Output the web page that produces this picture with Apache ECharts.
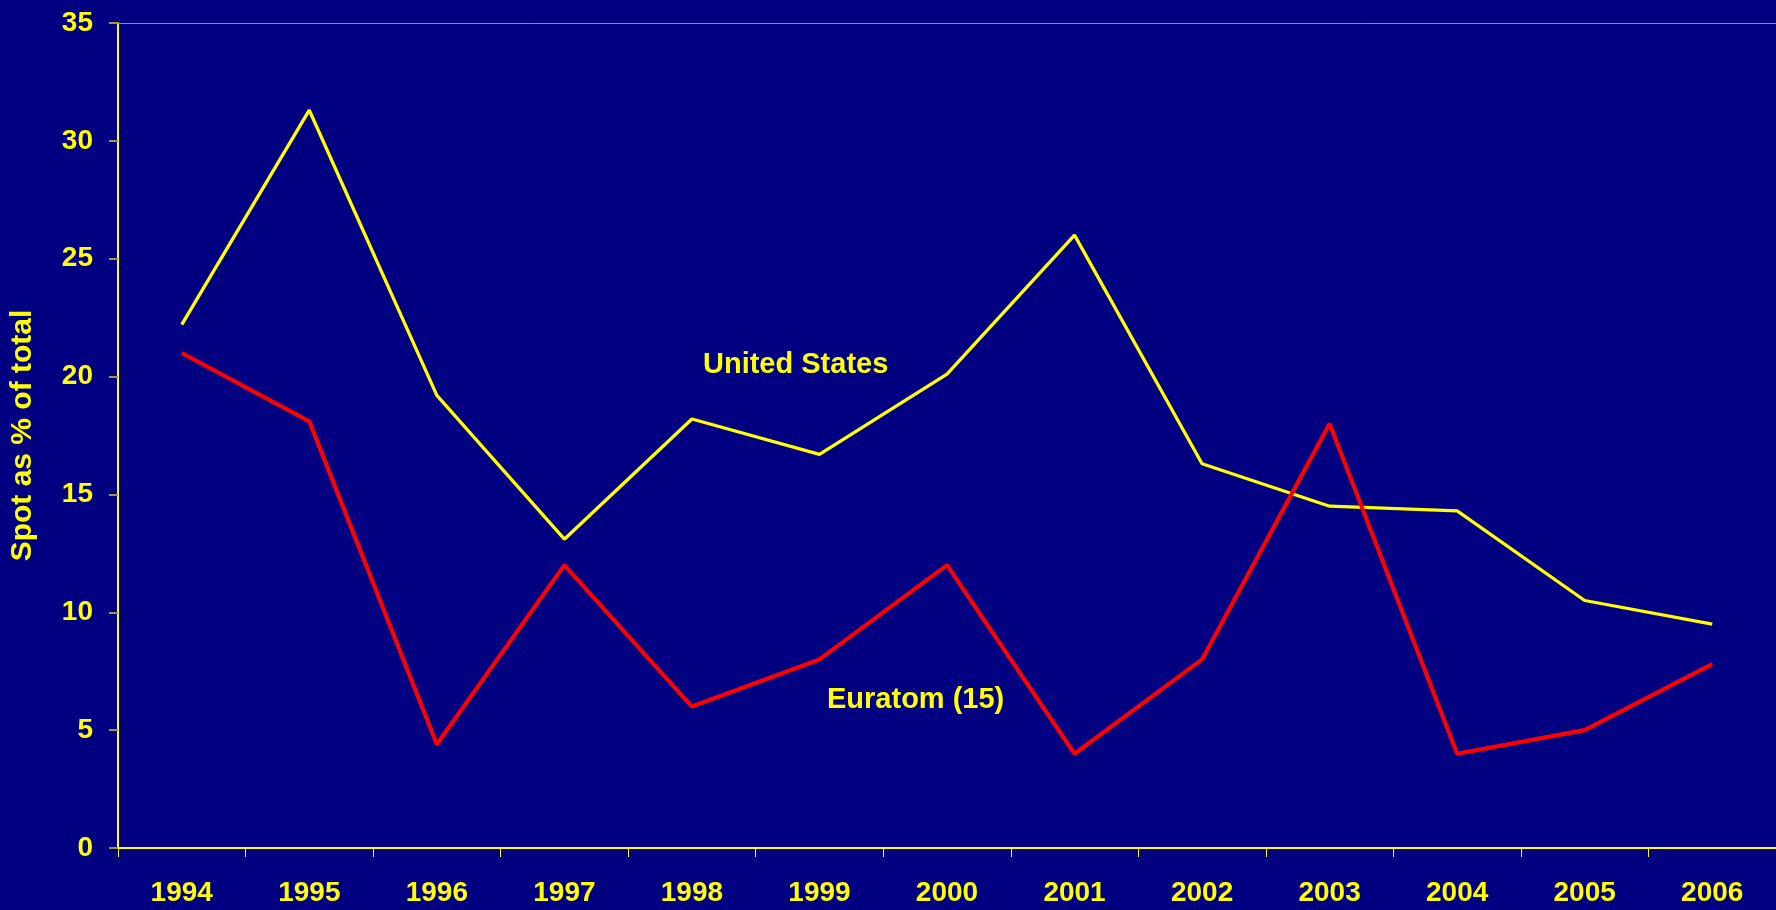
<!DOCTYPE html>
<html>
<head>
<meta charset="utf-8">
<script src="https://cdn.jsdelivr.net/npm/echarts@6/dist/echarts.min.js"></script>
<style>
  html, body { margin: 0; padding: 0; background: #000080; }
  #chart { width: 1776px; height: 910px; }
</style>
</head>
<body>
<div id="chart"></div>
<script>
var years = ['1994', '1995', '1996', '1997', '1998', '1999', '2000', '2001', '2002', '2003', '2004', '2005', '2006']
var unitedStates = [22.2, 31.3, 19.2, 13.1, 18.2, 16.7, 20.1, 26.0, 16.3, 14.5, 14.3, 10.5, 9.5]
var euratom = [21.0, 18.1, 4.4, 12.0, 6.0, 8.0, 12.0, 4.0, 8.0, 18.0, 4.0, 5.0, 7.8]

var yellow = '#ffff00'
var olive = '#9a9a40'
var font = 'Arial, "Liberation Sans", sans-serif'

var myChart = echarts.init(document.getElementById('chart'))
var option = {
  backgroundColor: '#000080',
  animation: false,
  grid: { left: 118, top: 23, width: 1664, bottom: 62 },
  xAxis: [
    {
      type: 'category',
      data: years,
      axisLine: { lineStyle: { color: yellow, width: 2 } },
      axisTick: { show: true, length: 9, lineStyle: { color: yellow, width: 1 } },
      axisLabel: { color: yellow, fontSize: 28, fontWeight: 'bold', fontFamily: font, margin: 31 },
    },
    {
      // bordure du haut
      type: 'category',
      data: years,
      position: 'top',
      axisLine: { lineStyle: { color: olive, width: 1 } },
      axisTick: { show: false },
      axisLabel: { show: false },
    },
  ],
  yAxis: {
    type: 'value',
    min: 0,
    max: 35,
    interval: 5,
    name: 'Spot as % of total',
    nameLocation: 'middle',
    nameRotate: 90,
    nameGap: 80,
    nameTextStyle: { color: yellow, fontSize: 30, fontWeight: 'bold', fontFamily: font },
    axisLine: { show: true, lineStyle: { color: yellow, width: 2 } },
    axisTick: { show: true, length: 9, lineStyle: { color: olive, width: 2 } },
    axisLabel: { color: yellow, fontSize: 28, fontWeight: 'bold', fontFamily: font, margin: 25 },
    splitLine: { show: false },
  },
  graphic: [
    {
      type: 'text',
      left: 703,
      top: 350,
      style: { text: 'United States', fill: yellow, font: 'bold 29px ' + font },
    },
    {
      type: 'text',
      left: 827,
      top: 685,
      style: { text: 'Euratom (15)', fill: yellow, font: 'bold 29px ' + font },
    },
  ],
  series: [
    {
      name: 'United States',
      type: 'line',
      data: unitedStates,
      symbol: 'none',
      lineStyle: { color: yellow, width: 3.3 },
    },
    {
      name: 'Euratom (15)',
      type: 'line',
      data: euratom,
      symbol: 'none',
      lineStyle: { color: '#ff0000', width: 4.2 },
    },
  ],
}
myChart.setOption(option)
</script>
</body>
</html>
